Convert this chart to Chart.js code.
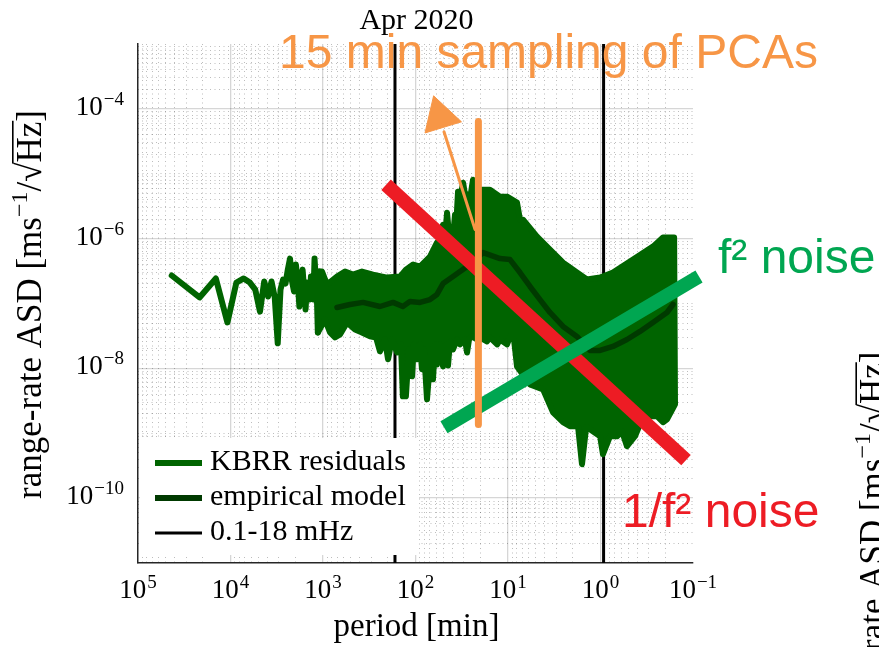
<!DOCTYPE html>
<html>
<head>
<meta charset="utf-8">
<title>KBRR residuals ASD, Apr 2020</title>
<script src="https://cdn.jsdelivr.net/npm/chart.js@4.4.0/dist/chart.umd.min.js"></script>
<style>
  html, body { margin: 0; padding: 0; background: #fff; }
</style>
</head>
<body>
<canvas id="asdChart" width="879" height="647"></canvas>

<script>
  // KBRR residuals, lowest bins (period = 30 days / k, in minutes)
  const resPeriod = [43200, 21600, 14400, 10800, 8640, 7200, 6171, 5400, 4800, 4320,
    3927, 3600, 3323, 3086, 2880, 2700, 2541, 2400, 2274, 2160,
    2057, 1964, 1878, 1800, 1728, 1662, 1600, 1543, 1490, 1440,
    1394, 1350, 1309, 1271, 1234, 1200, 1168, 1137, 1108, 1080];
  const resAsd = [2.70e-7, 1.24e-7, 2.43e-7, 5.10e-8, 2.10e-7, 2.43e-7, 2.10e-7, 1.64e-7, 7.5e-8, 2.18e-7,
    1.28e-7, 2.18e-7, 1.24e-7, 2.43e-8, 1.64e-7, 2.34e-7, 2.03e-7, 3.33e-7, 4.92e-7, 2.18e-7,
    1.53e-7, 3.98e-7, 2.18e-7, 9.0e-8, 2.18e-7, 3.33e-7, 1.64e-7, 8.1e-8, 2.10e-7, 1.48e-7,
    1.15e-7, 2.60e-7, 1.89e-7, 1.15e-7, 4.92e-7, 2.51e-7, 1.53e-7, 3.58e-8, 1.64e-7, 3.10e-7];

  // dense part of the residuals: upper envelope (long -> short period)
  const bandUpPeriod = [1133, 1025, 905, 706, 578, 474, 379, 288, 203, 147,
    127, 106, 89.4, 69.7, 58.6, 54.3, 50.4, 48.0, 45.6, 43.4,
    39.3, 37.4, 36.5, 34.7, 33.0, 30.6, 28.5, 27.1, 25.8, 23.9,
    22.2, 18.6, 15.7, 12.2, 10.25, 7.99, 7.42, 6.88, 4.86, 3.52,
    2.54, 1.80, 1.40, 1.01, 0.733, 0.445, 0.271, 0.211, 0.160];
  const bandUpAsd = [3.11e-7, 3.11e-7, 1.96e-7, 2.60e-7, 3.11e-7, 2.79e-7, 3.11e-7, 2.79e-7, 2.51e-7, 2.60e-7,
    3.33e-7, 3.98e-7, 3.71e-7, 5.28e-7, 8.68e-7, 6.77e-7, 1.64e-6, 9.65e-7, 2.51e-6, 1.15e-6,
    1.07e-6, 2.34e-6, 1.38e-6, 5.28e-6, 3.98e-6, 7.27e-6, 3.98e-6, 4.75e-6, 3.98e-6, 8.09e-6,
    5.67e-6, 5.67e-6, 5.67e-6, 4.43e-6, 4.43e-6, 3.58e-6, 1.96e-6, 1.96e-6, 1.07e-6, 6.77e-7,
    4.27e-7, 3.00e-7, 2.34e-7, 2.51e-7, 3.00e-7, 4.75e-7, 7.53e-7, 1.04e-6, 1.04e-6];
  // lower envelope (short -> long period)
  const bandLoPeriod = [0.1565, 0.191, 0.211, 0.245, 0.314, 0.374, 0.424, 0.517, 0.586, 0.663,
    0.789, 0.940, 1.01, 1.30, 1.43, 1.585, 1.75, 2.14, 2.54, 3.26,
    4.18, 5.78, 7.99, 8.61, 9.51, 10.25, 12.2, 13.1, 15.7, 16.9,
    20.1, 21.6, 24.5, 26.4, 27.7, 29.2, 33.0, 35.6, 39.3, 42.4,
    44.5, 46.8, 50.4, 54.3, 58.6, 61.5, 64.7, 68.0, 75.1, 80.9,
    85.1, 89.4, 96.3, 104, 109, 118, 127, 137, 143.5, 158,
    180, 198, 214, 242, 267, 310, 379, 451, 550, 655,
    742, 840, 952, 1133];
  const bandLoAsd = [2.79e-9, 1.64e-9, 1.48e-9, 1.83e-9, 1.83e-9, 1.38e-9, 8.99e-10, 6.31e-10, 1.07e-9, 8.99e-10,
    8.99e-10, 4.75e-10, 8.99e-10, 1.15e-9, 1.24e-9, 3.33e-10, 1.28e-9, 1.28e-9, 1.48e-9, 2.10e-9,
    4.75e-9, 5.67e-9, 1.07e-8, 2.79e-8, 3.11e-8, 2.34e-8, 2.79e-8, 2.34e-8, 3.00e-8, 2.60e-8,
    3.00e-8, 2.79e-8, 3.11e-8, 2.79e-8, 1.76e-8, 2.79e-8, 2.34e-8, 2.79e-8, 1.96e-8, 2.60e-8,
    1.11e-8, 2.34e-8, 1.07e-8, 2.34e-8, 1.15e-8, 2.34e-8, 6.77e-9, 1.96e-8, 3.33e-9, 1.96e-8,
    9.65e-9, 2.34e-8, 1.38e-8, 2.34e-8, 7.53e-9, 1.96e-8, 3.71e-9, 3.71e-9, 2.34e-8, 1.76e-8,
    2.79e-8, 1.38e-8, 2.79e-8, 1.83e-8, 3.00e-8, 3.11e-8, 3.58e-8, 3.98e-8, 5.10e-8, 3.33e-8,
    3.00e-8, 3.58e-8, 5.67e-8, 3.58e-8];

  // empirical noise model
  const empPeriod = [706, 511, 369, 242, 175, 137, 115, 89.4, 69.7, 58.6,
    50.4, 39.3, 27.7, 18.6, 12.2, 9.51, 7.42, 5.78, 4.51, 3.52,
    2.54, 1.80, 1.30, 1.01, 0.733, 0.517, 0.374, 0.271, 0.191, 0.1645];
  const empAsd = [8.68e-8, 9.65e-8, 1.04e-7, 8.99e-8, 1.04e-7, 8.99e-8, 1.07e-7, 1.04e-7, 1.15e-7, 1.38e-7,
    2.03e-7, 2.60e-7, 3.71e-7, 6.09e-7, 4.92e-7, 4.75e-7, 3.00e-7, 1.83e-7, 1.15e-7, 7.27e-8,
    4.43e-8, 3.11e-8, 1.89e-8, 1.89e-8, 2.18e-8, 2.79e-8, 3.71e-8, 5.10e-8, 7.27e-8, 9.65e-8];

  // measurement band 0.1-18 mHz
  const bandFreqMHz = [0.1, 18];

  // annotations
  const redPeriod = [208, 0.119],  redAsd = [6.77e-6, 3.84e-10];     // 1/f^2 noise
  const greenPeriod = [49.2, 0.0861], greenAsd = [1.24e-9, 2.60e-7];  // f^2 noise
  const pcaPeriod = [20.9, 20.9], pcaAsd = [6.38e-5, 1.37e-9];       // PCA sampling
  const arrowPeriod = [22.7, 49.2], arrowAsd = [1.38e-6, 4.43e-5];
  const headPeriod = [54.3], headAsd = [7.53e-5];

  const xTickLabels = [1e5, 1e4, 1e3, 1e2, 1e1, 1e0, 1e-1];
  const yTickLabels = [1e-4, 1e-6, 1e-8, 1e-10];
  const majorX = [1e4, 1e3, 1e2, 1e1, 1e0];
  const majorY = [1e-4, 1e-6, 1e-8, 1e-10];

  const ORANGE = '#f79646', RED = '#ed1c24', GREEN = '#00a651';
  const KBRR = '#006400', EMP = '#003a00';
  const SERIF = '"Liberation Serif", "DejaVu Serif", serif';
  const SANS = '"Liberation Sans", Arial, sans-serif';

  const xy = (px, py) => px.map((p, i) => ({x: p, y: py[i]}));

  var minorX = [];
  for (var n = -1; n <= 4; n++)
    for (var m = 2; m <= 9; m++) minorX.push(m * Math.pow(10, n));
  var minorY = [1e-9, 1e-7, 1e-5];
  for (var n = -11; n <= -4; n++)
    for (var m = 2; m <= 9; m++) minorY.push(m * Math.pow(10, n));

  const bandPeriods = bandFreqMHz.map(f => 1000 / f / 60);

  function expStr(e) { return String(e).replace('-', '\u2212'); }

  function drawPow(ctx, exp, x, y, align, size) {
    const sup = Math.round(size * 0.7);
    ctx.font = size + 'px ' + SERIF;
    const wb = ctx.measureText('10').width;
    ctx.font = sup + 'px ' + SERIF;
    const we = ctx.measureText(exp).width;
    const w = wb + we + 1;
    const x0 = align === 'center' ? x - w / 2 : x - w;
    ctx.textAlign = 'left';
    ctx.font = size + 'px ' + SERIF;
    ctx.fillText('10', x0, y);
    ctx.font = sup + 'px ' + SERIF;
    ctx.fillText(exp, x0 + wb + 1, y - size * 0.37);
  }

  function drawYLabel(ctx, bx, cy) {
    const big = '35px ' + SERIF, small = '24px ' + SERIF;
    const runs = [['range-rate ASD [ms', big, 0], ['\u22121', small, -14], ['/', big, 0],
                  ['\u221A', big, 0], ['Hz', big, 0], [']', big, 0]];
    ctx.save();
    ctx.translate(bx, cy);
    ctx.rotate(-Math.PI / 2);
    ctx.textAlign = 'left';
    var total = 0;
    const widths = runs.map(r => { ctx.font = r[1]; var w = ctx.measureText(r[0]).width; total += w; return w; });
    var x = -total / 2;
    runs.forEach((r, i) => {
      ctx.font = r[1];
      ctx.fillText(r[0], x, r[2]);
      if (r[0] === 'Hz') ctx.fillRect(x - 1, -29, widths[i] + 2, 1.6);
      x += widths[i];
    });
    ctx.restore();
  }

  const legendItems = [
    {label: 'KBRR residuals', color: KBRR, width: 6},
    {label: 'empirical model', color: EMP, width: 6},
    {label: '0.1-18 mHz', color: '#000', width: 3}
  ];

  const figureText = {
    id: 'figureText',
    afterDraw(chart) {
      const ctx = chart.ctx, xs = chart.scales.x, ys = chart.scales.y, ca = chart.chartArea;
      ctx.save();
      ctx.fillStyle = '#000';
      ctx.textBaseline = 'alphabetic';
      xTickLabels.forEach(v => drawPow(ctx, expStr(Math.round(Math.log10(v))), xs.getPixelForValue(v), ca.bottom + 35, 'center', 27));
      yTickLabels.forEach(v => drawPow(ctx, expStr(Math.round(Math.log10(v))), ca.left - 14, ys.getPixelForValue(v) + 6, 'right', 27));

      const cx = (ca.left + ca.right) / 2 + 1;
      ctx.textAlign = 'center';
      ctx.font = '30px ' + SERIF;
      ctx.fillText('Apr 2020', cx, 29);
      ctx.font = '33px ' + SERIF;
      ctx.fillText('period [min]', cx, 636);

      drawYLabel(ctx, 41, 304.5);
      // label of the neighbouring panel, cut by the right edge
      drawYLabel(ctx, 884.4, 546);

      // legend
      ctx.fillStyle = '#fff';
      ctx.fillRect(ca.left + 2, 438, 279, 117);
      legendItems.forEach((it, i) => {
        const y = 463 + i * 35;
        ctx.strokeStyle = it.color;
        ctx.lineWidth = it.width;
        ctx.beginPath();
        ctx.moveTo(155, y);
        ctx.lineTo(202, y);
        ctx.stroke();
        ctx.fillStyle = '#000';
        ctx.textAlign = 'left';
        ctx.font = '30px ' + SERIF;
        ctx.fillText(it.label, 210, y + 7);
      });

      ctx.textAlign = 'left';
      ctx.font = '48px ' + SANS;
      ctx.fillStyle = ORANGE;
      ctx.fillText('15 min sampling of PCAs', 279, 68);
      ctx.fillStyle = GREEN;
      ctx.fillText('f\u00B2 noise', 718, 273);
      ctx.fillStyle = RED;
      ctx.fillText('1/f\u00B2 noise', 622, 527);
      ctx.restore();
    }
  };

  const lineDefaults = {pointRadius: 0, tension: 0, fill: false};

  const datasets = [
    Object.assign({data: xy(pcaPeriod, pcaAsd), borderColor: ORANGE, borderWidth: 7, borderCapStyle: 'butt', clip: false, order: 1}, lineDefaults),
    Object.assign({data: xy(arrowPeriod, arrowAsd), borderColor: ORANGE, borderWidth: 3, clip: false, order: 1}, lineDefaults),
    {data: xy(headPeriod, headAsd), showLine: false, pointStyle: 'triangle', pointRadius: 22, pointRotation: -17,
     pointBackgroundColor: ORANGE, pointBorderColor: ORANGE, pointBorderWidth: 1, clip: false, order: 1},
    Object.assign({data: xy(greenPeriod, greenAsd), borderColor: GREEN, borderWidth: 14, borderCapStyle: 'butt', clip: false, order: 2}, lineDefaults),
    Object.assign({data: xy(redPeriod, redAsd), borderColor: RED, borderWidth: 14, borderCapStyle: 'butt', clip: false, order: 3}, lineDefaults),
    Object.assign({data: xy(empPeriod, empAsd), borderColor: EMP, borderWidth: 5.5, order: 4}, lineDefaults),
    {data: xy(bandUpPeriod.concat(bandLoPeriod), bandUpAsd.concat(bandLoAsd)), borderColor: KBRR, backgroundColor: KBRR,
     borderWidth: 6, pointRadius: 0, tension: 0, fill: 'shape', order: 5},
    Object.assign({data: xy(resPeriod, resAsd), borderColor: KBRR, borderWidth: 6, order: 5}, lineDefaults),
    Object.assign({data: [{x: bandPeriods[0], y: 1e-3}, {x: bandPeriods[0], y: 1e-11}], borderColor: '#000', borderWidth: 3, order: 6}, lineDefaults),
    Object.assign({data: [{x: bandPeriods[1], y: 1e-3}, {x: bandPeriods[1], y: 1e-11}], borderColor: '#000', borderWidth: 3, order: 6}, lineDefaults)
  ];

  const minorGrid = {color: 'rgba(0,0,0,0.26)', lineWidth: 1, drawTicks: false};
  const majorGrid = {color: 'rgba(0,0,0,0.16)', lineWidth: 1.3, drawTicks: false};

  const config = {
    type: 'line',
    data: {datasets: datasets},
    options: {
      responsive: false,
      animation: false,
      devicePixelRatio: 1,
      events: [],
      layout: {padding: {left: 138, right: 186, top: 44, bottom: 84}},
      elements: {line: {borderJoinStyle: 'round', borderCapStyle: 'round'}},
      plugins: {legend: {display: false}, tooltip: {enabled: false}},
      scales: {
        x: {
          type: 'logarithmic', reverse: true, min: 0.1, max: 1e5,
          afterBuildTicks: ax => { ax.ticks = majorX.map(v => ({value: v, major: true})); },
          ticks: {display: false},
          grid: majorGrid,
          border: {display: true, color: '#262626', width: 1.5}
        },
        y: {
          type: 'logarithmic', min: 1e-11, max: 1e-3,
          afterBuildTicks: ax => { ax.ticks = majorY.map(v => ({value: v, major: true})); },
          ticks: {display: false},
          grid: majorGrid,
          border: {display: true, color: '#262626', width: 1.5}
        },
        xm: {
          type: 'logarithmic', position: 'bottom', reverse: true, min: 0.1, max: 1e5,
          afterBuildTicks: ax => { ax.ticks = minorX.map(v => ({value: v})); },
          ticks: {display: false},
          grid: minorGrid,
          border: {display: false, dash: [1, 3.5]}
        },
        ym: {
          type: 'logarithmic', position: 'left', min: 1e-11, max: 1e-3,
          afterBuildTicks: ax => { ax.ticks = minorY.map(v => ({value: v})); },
          ticks: {display: false},
          grid: minorGrid,
          border: {display: false, dash: [1, 3.5]}
        }
      }
    },
    plugins: [figureText]
  };

  const asdChart = new Chart(document.getElementById('asdChart'), config);
</script>
</body>
</html>
